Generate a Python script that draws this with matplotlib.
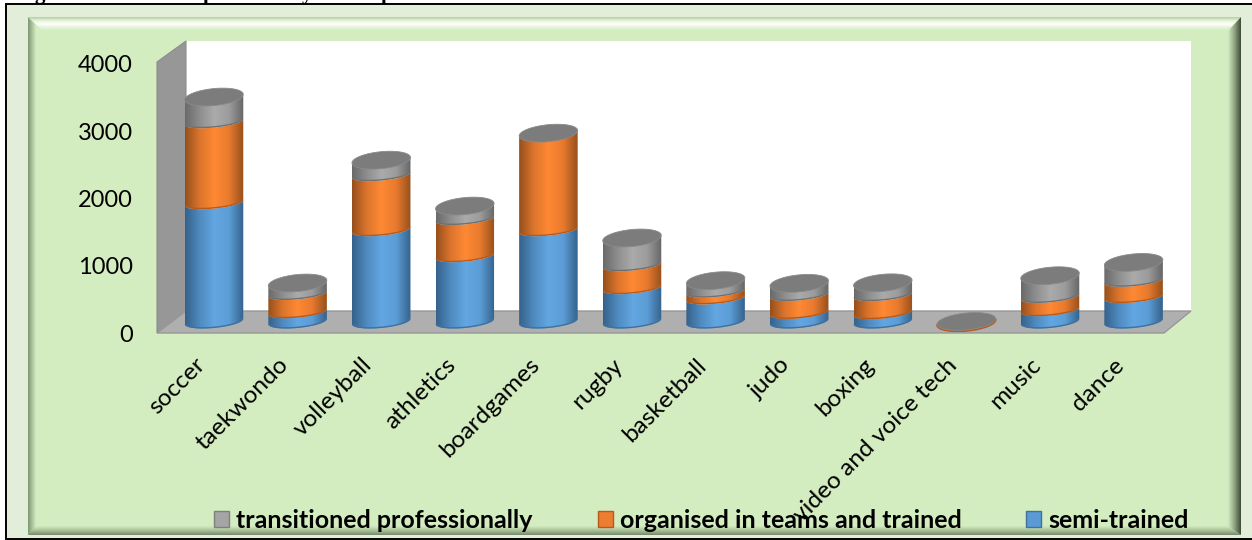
"""Stacked cylinder chart, participants per sport, drawn with gradient clipped patches."""
import numpy as np
import matplotlib
matplotlib.use("Agg")
import matplotlib.pyplot as plt
from matplotlib.colors import LinearSegmentedColormap
from matplotlib.patches import Patch, Polygon
from matplotlib.transforms import ScaledTranslation

categories = ["soccer", "taekwondo", "volleyball", "athletics", "boardgames", "rugby",
              "basketball", "judo", "boxing", "video and voice tech", "music", "dance"]
semi_trained = [1755, 140, 1355, 970, 1355, 496, 345, 130, 126, 0, 170, 365]
organised = [1200, 270, 815, 550, 1435, 341, 100, 265, 267, 0, 196, 240]
transitioned = [370, 160, 220, 190, 0, 400, 160, 170, 180, 0, 312, 270]
yticks = [0, 1000, 2000, 3000, 4000]

W, H = 1252, 540
plt.rcParams["font.family"] = ["Lato", "DejaVu Sans"]
fig = plt.figure(figsize=(W / 100, H / 100), dpi=100, facecolor="white")

# page frame, in pixel coordinates
bg = fig.add_axes([0, 0, 1, 1])
bg.set_xlim(0, W)
bg.set_ylim(H, 0)
bg.axis("off")


def grad(ax, extent, stops, poly, vertical=False, z=1):
    cmap = LinearSegmentedColormap.from_list("g", stops)
    v = np.linspace(0, 1, 128)
    arr = v[:, None] if vertical else v[None, :]
    im = ax.imshow(arr, cmap=cmap, extent=extent, aspect="auto", zorder=z, interpolation="bilinear",
                   origin="upper" if vertical else "lower")
    p = Polygon(poly, closed=True, transform=ax.transData, fc="none", ec="none")
    ax.add_patch(p)
    im.set_clip_path(p)
    return p


GREEN = "#D3ECC0"
bg.add_patch(plt.Rectangle((6, 3.5), W, 535, fc="#E2EED9", ec="black", lw=1.4, zorder=0))
bg.add_patch(plt.Rectangle((28, 17), 1213, 518, fc=GREEN, ec="none", zorder=1))
grad(bg, (28, 36, 535, 17), ["#7E9670", "#A9C098", GREEN], [(28, 17), (43, 31), (36, 527), (28, 535)], z=2)
grad(bg, (28, 1241, 31, 17), ["#B4CCA2", "#E4F5D6", "#FFFFFF", "#E4F5D6", GREEN],
     [(28, 17), (1241, 17), (1228, 31), (43, 31)], vertical=True, z=2)
grad(bg, (1228, 1241, 535, 17), [GREEN, "#8FA481", "#3E4A36"],
     [(1241, 17), (1241, 535), (1228, 527), (1228, 31)], z=2)
grad(bg, (28, 1241, 535, 526), [GREEN, "#A9BF98", "#75896A"],
     [(28, 535), (36, 526), (1228, 526), (1241, 535)], vertical=True, z=2)

# cut off first line of the page above the chart: only these descenders are visible
for gx, ch in [(40, "g"), (209, "p"), (307, "y"), (387, "p")]:
    bg.text(gx, -0.8, ch, family="Liberation Serif", weight="bold", fontsize=15, ha="center",
            va="baseline", zorder=0.5, clip_on=True)

# 3D box
bg.add_patch(Polygon([(186, 41), (1191, 41), (1191, 311), (186, 311)], fc="white", ec="none", zorder=3))
bg.add_patch(Polygon([(157, 62), (186, 41), (186, 311), (157, 333)], fc="#979797", ec="#8C8C8C", lw=0.8, zorder=3))
bg.add_patch(Polygon([(186, 311), (1191, 311), (1164, 333), (157, 333)], fc="#AFAFAF", ec="#989898", lw=1, zorder=3))

# data axes: front edge of the box, 0 at 332 px and 4000 at 62 px
L, R, B, T = 157, 1164, 332, 62
ax = fig.add_axes([L / W, 1 - B / H, (R - L) / W, (B - T) / H], facecolor="none")
ax.set_xlim((L - 214) / 83.6, (R - 214) / 83.6)
ax.set_ylim(0, 4000)
ax.set_autoscale_on(False)
PX = 4000 / (B - T)  # value units per pixel
BASE = 10.5 * PX
A, CAP_B, TILT = 0.35, 8.5 * PX, 2.7 * PX
SAG, BASE_SAG = 5.5 * PX, 6.5 * PX


def arc(xc, yc, t0, t1, b, n=40):
    t = np.linspace(t0, t1, n)
    return np.column_stack([xc + A * np.cos(t), yc + b * np.sin(t) + TILT * np.cos(t)])


def segment(xc, y0, y1, stops, dark):
    b0 = BASE_SAG if y0 == BASE else SAG
    low = arc(xc, y0, np.pi, 2 * np.pi, b0)
    body = np.vstack([low, arc(xc, y1, 2 * np.pi, np.pi, SAG)])
    p = grad(ax, (xc - A, xc + A, y0 - 2 * CAP_B, y1 + 2 * CAP_B), stops, body, z=3)
    line, = ax.plot(low[:, 0], low[:, 1], color=dark, lw=2, zorder=3, solid_capstyle="butt")
    line.set_clip_path(p)


series = [
    (semi_trained, ["#35628C", "#4F8BBF", "#62A6E2", "#5C9DD6", "#35628C"], "#41719C"),
    (organised, ["#96501C", "#DC752D", "#FF8933", "#E87A2E", "#96501C"], "#B65A1C"),
    (transitioned, ["#6A6A6A", "#8E8E8E", "#ABABAB", "#9C9C9C", "#666666"], "#707070"),
]

for i in range(len(categories)):
    y = BASE
    for vals, stops, dark in series:
        if vals[i] > 0:
            segment(i, y, y + vals[i], stops, dark)
            y += vals[i]
    if y == BASE:  # empty bar leaves a flat disc with the rim of the stack under it
        low = arc(i, y - 0.8 * PX, np.pi, 2 * np.pi, CAP_B)
        ax.plot(low[:, 0], low[:, 1], color="#B65A1C", lw=1.4, zorder=3)
    cap = arc(i, y, 0, 2 * np.pi, CAP_B, 80)
    ax.add_patch(Polygon(cap, closed=True, fc="#7C7C7C", ec="#8A8A8A", lw=0.6, zorder=4))

for s in ax.spines.values():
    s.set_visible(False)
ax.set_yticks(yticks)
ax.tick_params(axis="y", length=0, pad=17.5, labelsize=17)
for lab in ax.get_yticklabels():
    lab.set_transform(lab.get_transform() + ScaledTranslation(0, -1.5 / 100, fig.dpi_scale_trans))
ax.set_xticks(range(len(categories)))
ax.set_xticklabels(categories, rotation=45, ha="right", va="top", rotation_mode="anchor", fontsize=17.6)
ax.tick_params(axis="x", length=0, pad=16)
for lab in ax.get_xticklabels():
    lab.set_transform(lab.get_transform() + ScaledTranslation(-20 / 100, 0, fig.dpi_scale_trans))

handles = [Patch(fc="#A5A5A5", ec="#7F7F7F", label="transitioned professionally"),
           Patch(fc="#ED7D31", ec="#B65A1C", label="organised in teams and trained"),
           Patch(fc="#5B9BD5", ec="#41719C", label="semi-trained")]
leg = fig.legend(handles=handles, loc="lower left", bbox_to_anchor=(214 / W, 1 - 532 / H), ncol=3, frameon=False,
                 prop={"weight": "bold", "size": 18}, handlelength=0.6, handleheight=0.6,
                 handletextpad=0.28, columnspacing=2.6, borderaxespad=0, borderpad=0)

fig.savefig("out.png", dpi=100)
